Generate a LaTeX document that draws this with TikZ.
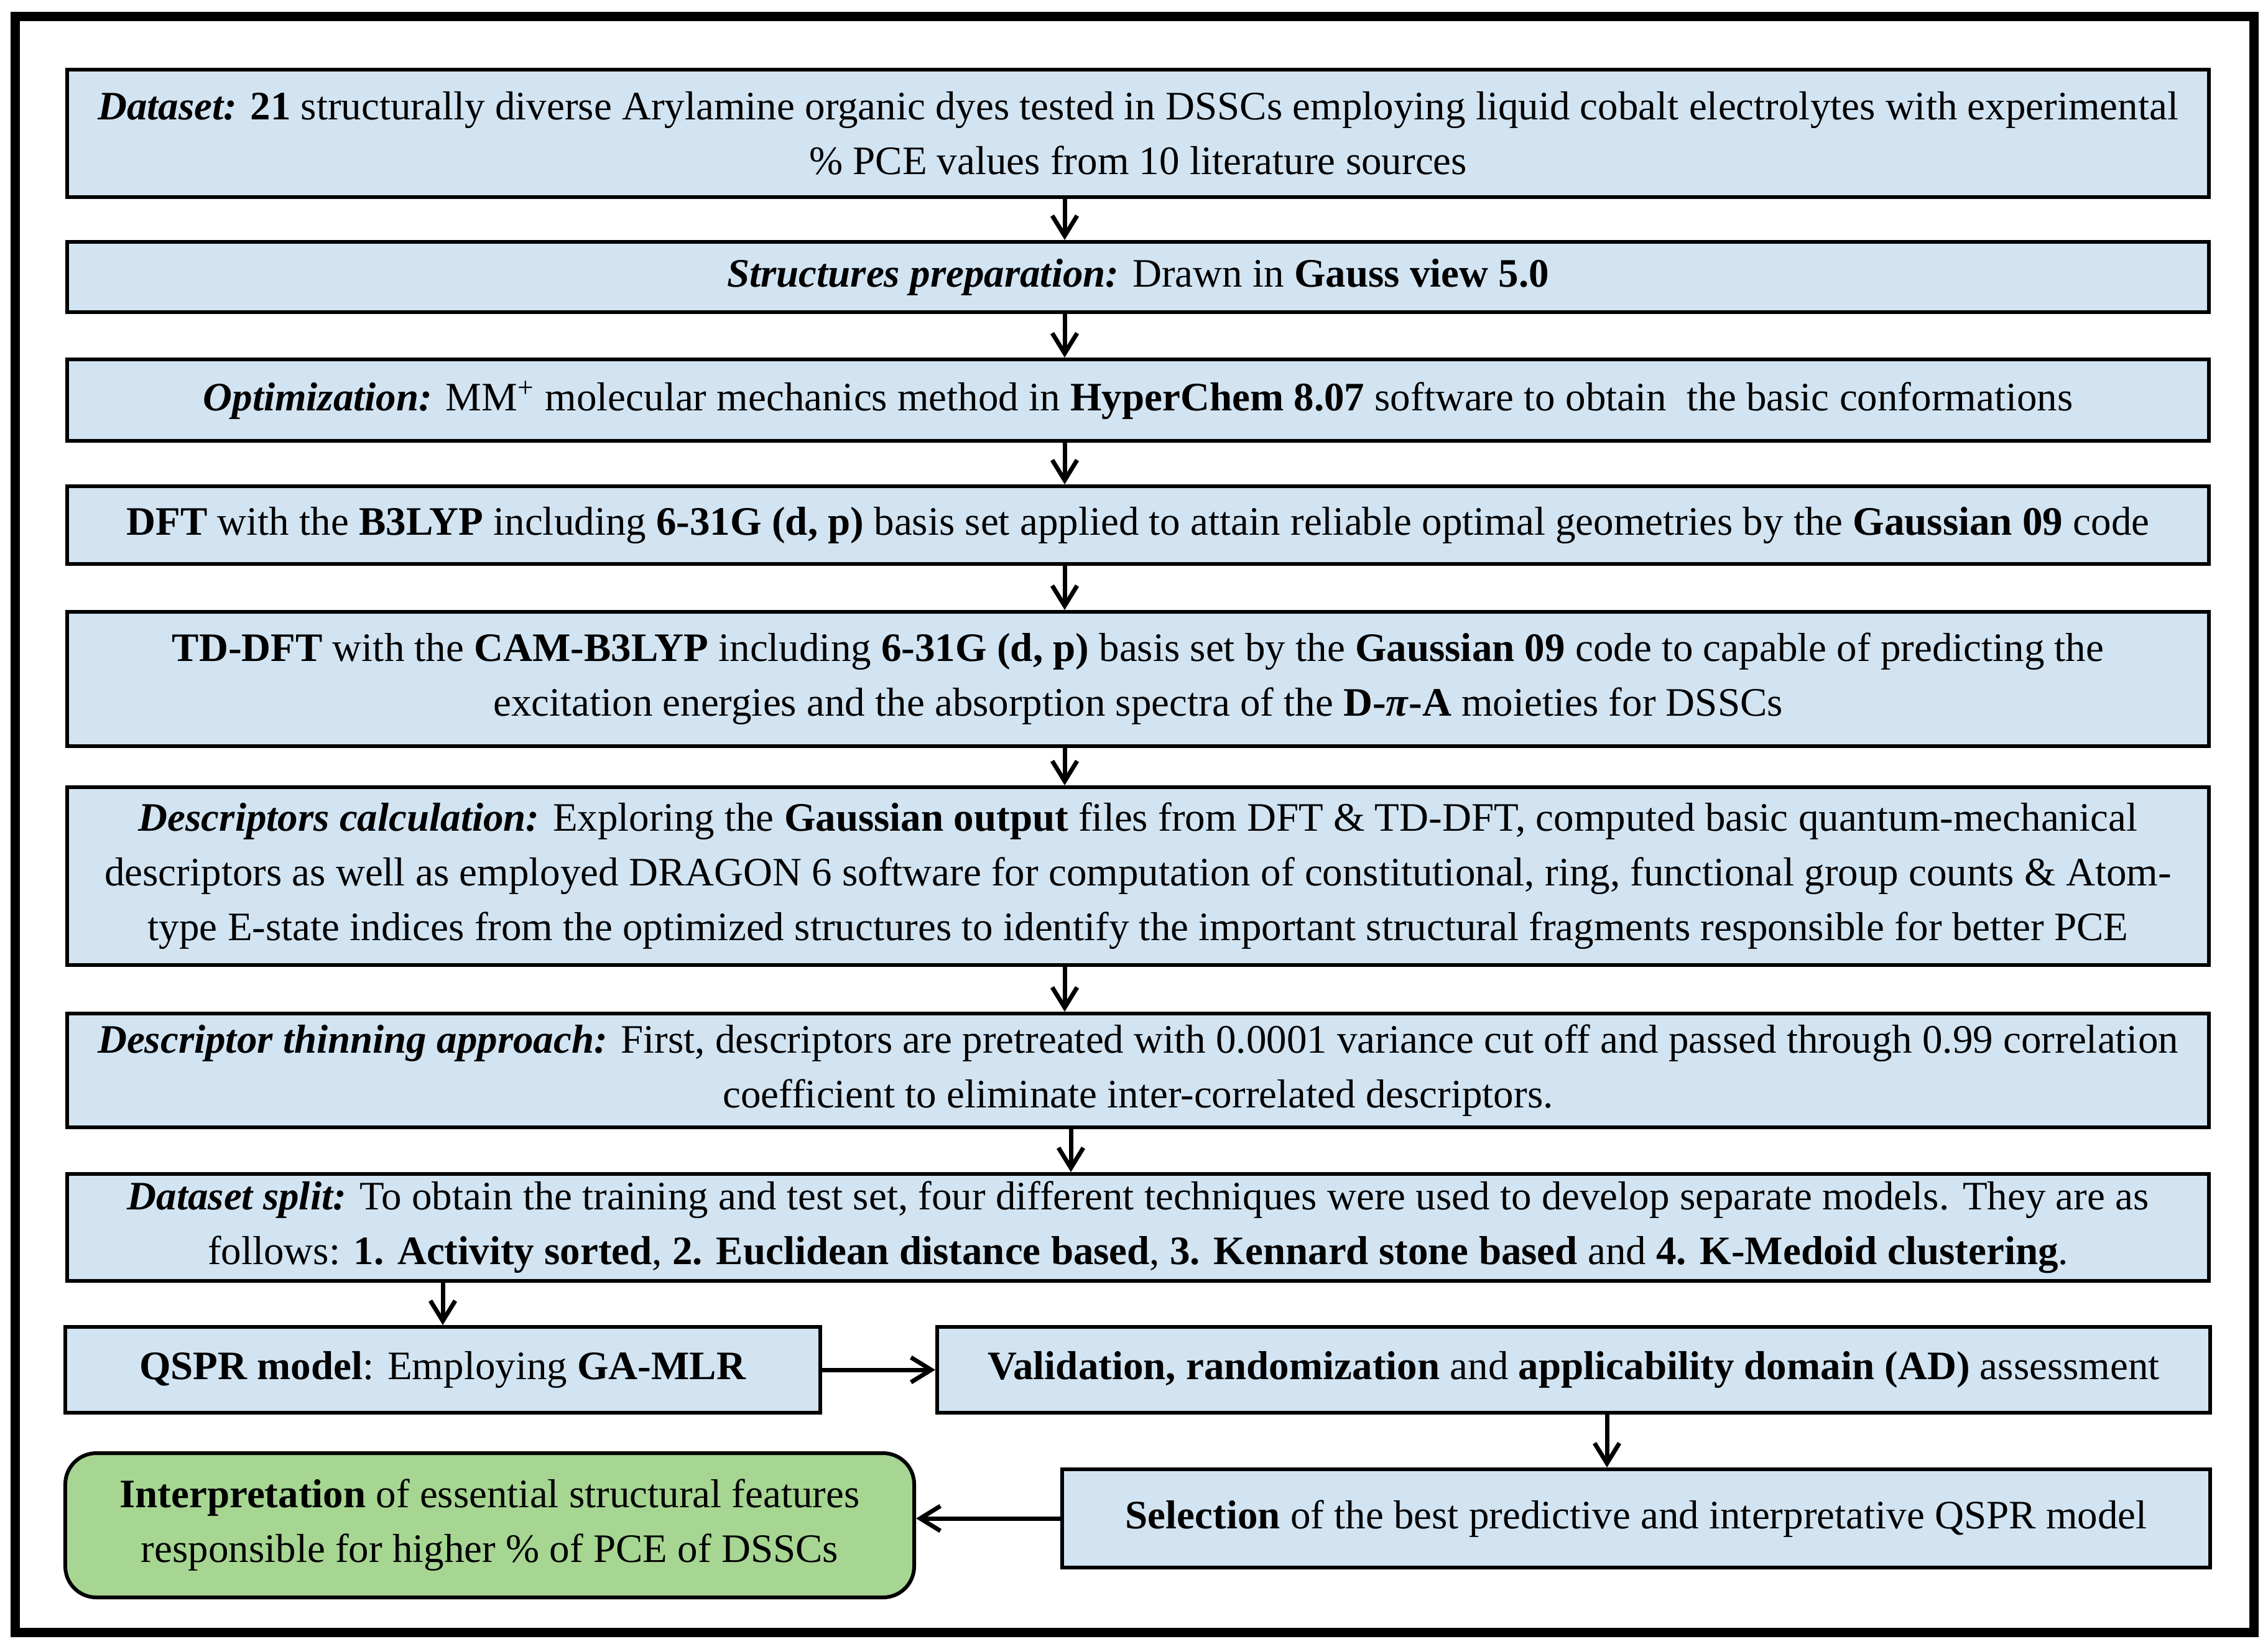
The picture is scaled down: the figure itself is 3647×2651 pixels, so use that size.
\documentclass[tikz,border=0pt]{standalone}
\usepackage{fontspec}
\setmainfont{Liberation Serif}
\usetikzlibrary{arrows.meta}
\definecolor{boxblue}{RGB}{210,228,242}
\definecolor{boxgreen}{RGB}{166,214,146}
\newcommand{\hd}[1]{\textbf{\textit{#1}}}

\begin{document}
\begin{tikzpicture}[x=0.2pt,y=-0.2pt,
stepbox/.style={draw,line width=1.2pt,fill=boxblue,inner sep=0pt,align=center,
font=\fontsize{13}{17.6}\selectfont},
endbox/.style={stepbox,fill=boxgreen,rounded corners=10pt},
arr/.style={line width=1.4pt,-{Straight Barb[length=6.5pt,width=8pt]}}]
\useasboundingbox (0,0) rectangle (3647,2651);
\draw[line width=3pt] (24,27) rectangle (3624,2625);
\node[stepbox,minimum width=688.8pt,minimum height=41pt] (ds) at (1830,214.5)
{\hd{Dataset:} \textbf{21} structurally diverse Arylamine organic dyes tested in DSSCs employing liquid cobalt electrolytes with experimental\\
\% PCE values from 10 literature sources};
\node[stepbox,minimum width=688.8pt,minimum height=22.6pt] (prep) at (1830,445.5)
{\hd{Structures preparation:} Drawn in \textbf{Gauss view 5.0}};
\node[stepbox,minimum width=688.8pt,minimum height=26.2pt] (opt) at (1830,643.5)
{\hd{Optimization:} MM\textsuperscript{+} molecular mechanics method in \textbf{HyperChem 8.07} software to obtain\ \ the basic conformations};
\node[stepbox,minimum width=688.8pt,minimum height=25pt] (dft) at (1830,844.5)
{\textbf{DFT} with the \textbf{B3LYP} including \textbf{6-31G (d, p)} basis set applied to attain reliable optimal geometries by the \textbf{Gaussian 09} code};
\node[stepbox,minimum width=688.8pt,minimum height=43.2pt] (tddft) at (1830,1092)
{\textbf{TD-DFT} with the \textbf{CAM-B3LYP} including \textbf{6-31G (d, p)} basis set by the \textbf{Gaussian 09} code to capable of predicting the\\
excitation energies and the absorption spectra of the \textbf{D-\textit{π}-A} moieties for DSSCs};
\node[stepbox,minimum width=688.8pt,minimum height=57.2pt] (desc) at (1830,1409)
{\hd{Descriptors calculation:} Exploring the \textbf{Gaussian output} files from DFT \& TD-DFT, computed basic quantum-mechanical\\
descriptors as well as employed DRAGON 6 software for computation of constitutional, ring, functional group counts \& Atom-\\
type E-state indices from the optimized structures to identify the important structural fragments responsible for better PCE};
\node[stepbox,minimum width=688.8pt,minimum height=36.6pt] (thin) at (1830,1721.5)
{\hd{Descriptor thinning approach:} First, descriptors are pretreated with 0.0001 variance cut off and passed through 0.99 correlation\\
coefficient to eliminate inter-correlated descriptors.};
\node[stepbox,minimum width=688.8pt,minimum height=34.4pt] (split) at (1830,1974)
{\hd{Dataset split:} To obtain the training and test set, four different techniques were used to develop separate models. They are as\\
follows: \textbf{1. Activity sorted}, \textbf{2. Euclidean distance based}, \textbf{3. Kennard stone based} and \textbf{4. K-Medoid clustering}.};
\node[stepbox,minimum width=242.8pt,minimum height=27.6pt] (qspr) at (712,2203)
{\textbf{QSPR model}: Employing \textbf{GA-MLR}};
\node[stepbox,minimum width=409.4pt,minimum height=27.6pt] (valid) at (2530.5,2203)
{\textbf{Validation, randomization} and \textbf{applicability domain (AD)} assessment};
\node[stepbox,minimum width=369.2pt,minimum height=31.6pt] (sel) at (2631,2442)
{\textbf{Selection} of the best predictive and interpretative QSPR model};
\node[endbox,minimum width=273pt,minimum height=46.4pt] (interp) at (787.5,2453)
{\textbf{Interpretation} of essential structural features\\
responsible for higher \% of PCE of DSSCs};
\coordinate (ax) at (1712,0);
\coordinate (bx) at (2584,0);
\draw[arr] (ds.south -| ax) -- (prep.north -| ax);
\draw[arr] (prep.south -| ax) -- (opt.north -| ax);
\draw[arr] (opt.south -| ax) -- (dft.north -| ax);
\draw[arr] (dft.south -| ax) -- (tddft.north -| ax);
\draw[arr] (tddft.south -| ax) -- (desc.north -| ax);
\draw[arr] (desc.south -| ax) -- (thin.north -| ax);
\draw[arr] ([xshift=2pt]thin.south -| ax) -- ([xshift=2pt]split.north -| ax);
\draw[arr] (split.south -| qspr.north) -- (qspr.north);
\draw[arr] (qspr.east) -- (valid.west);
\draw[arr] (valid.south -| bx) -- (sel.north -| bx);
\draw[arr] (sel.west) -- (sel.west -| interp.east);
\end{tikzpicture}
\end{document}
